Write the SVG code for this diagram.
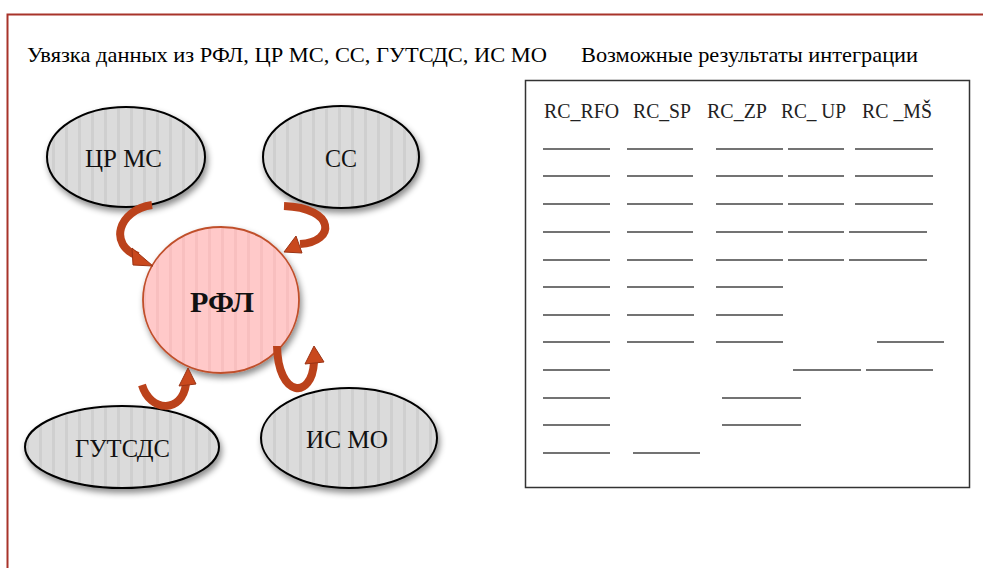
<svg xmlns="http://www.w3.org/2000/svg" width="983" height="568" viewBox="0 0 983 568">
<defs>
<pattern id="gstripe" width="13" height="20" patternUnits="userSpaceOnUse">
<rect width="13" height="20" fill="#dbdbdb"/>
<rect x="0" width="3" height="20" fill="#cfcfcf"/>
</pattern>
<pattern id="pstripe" width="13" height="20" patternUnits="userSpaceOnUse">
<rect width="13" height="20" fill="#ffc9c9"/>
<rect x="0" width="3" height="20" fill="#f8bfbf"/>
</pattern>
<filter id="shadow" x="-20%" y="-20%" width="140%" height="150%">
<feDropShadow dx="2" dy="4" stdDeviation="3" flood-color="#000" flood-opacity="0.45"/>
</filter>
</defs>
<style>
.node { fill: url(#gstripe); stroke: #000; stroke-width: 2; filter: url(#shadow); }
.lbl { font-size: 26px; fill: #111; }
.hdr { font-size: 22px; fill: #000; }
.col { font-size: 21px; fill: #222; }
.arr { fill: none; stroke: #bb421b; stroke-width: 8; stroke-linecap: butt; }
.head { fill: #c9481d; stroke: #9a3314; stroke-width: 1; }
.ul { stroke: #444; stroke-width: 1.3; }
</style>
<rect x="0" y="0" width="983" height="568" fill="#fff"/>
<path d="M7.5 568 V14.5 H983" fill="none" stroke="#a8332a" stroke-width="2"/>
<g font-family="Liberation Serif, serif">
<text class="hdr" x="27" y="62" textLength="520" lengthAdjust="spacingAndGlyphs">Увязка данных из РФЛ, ЦР МС, СС, ГУТСДС, ИС МО</text>
<text class="hdr" x="581" y="62" textLength="337" lengthAdjust="spacingAndGlyphs">Возможные результаты интеграции</text>

<g id="node-crms">
<ellipse class="node" cx="126" cy="157" rx="79" ry="50"/>
<text class="lbl" x="85" y="167" textLength="77" lengthAdjust="spacingAndGlyphs">ЦР МС</text>
</g>
<g id="node-ss">
<ellipse class="node" cx="341" cy="157" rx="78" ry="51"/>
<text class="lbl" x="325" y="167" textLength="32" lengthAdjust="spacingAndGlyphs">СС</text>
</g>
<g id="node-rfl">
<ellipse cx="221" cy="300" rx="78" ry="73" fill="url(#pstripe)" stroke="#c0502c" stroke-width="1.8" filter="url(#shadow)"/>
<text x="190" y="312" font-size="30" font-weight="bold" fill="#111" textLength="64" lengthAdjust="spacingAndGlyphs">РФЛ</text>
</g>
<g id="node-gutsds">
<ellipse class="node" cx="122" cy="447" rx="97" ry="41"/>
<text class="lbl" x="75" y="457" textLength="95" lengthAdjust="spacingAndGlyphs">ГУТСДС</text>
</g>
<g id="node-ismo">
<ellipse class="node" cx="349" cy="438" rx="88" ry="50"/>
<text class="lbl" x="306" y="448" textLength="82" lengthAdjust="spacingAndGlyphs">ИС МО</text>
</g>

<g id="connectors">
<path class="arr" d="M152 205 C118 210 108 245 138 256"/>
<polygon class="head" points="132,248 153,266 133,265"/>
<path class="arr" d="M284 206 C336 208 336 242 300 244"/>
<polygon class="head" points="296,236 284,252 302,253"/>
<path class="arr" d="M142 385 C150 412 182 414 186 384"/>
<polygon class="head" points="179,386 188,368 196,384"/>
<path class="arr" d="M277 346 C278 398 312 400 314 362"/>
<polygon class="head" points="305,364 314,346 324,362"/>
</g>

<g id="results">
<rect x="525.5" y="80.5" width="444" height="407" fill="#fff" stroke="#333" stroke-width="1.5"/>
<text class="col" x="544" y="118" textLength="75" lengthAdjust="spacingAndGlyphs">RC_RFO</text>
<text class="col" x="633" y="118" textLength="58" lengthAdjust="spacingAndGlyphs">RC_SP</text>
<text class="col" x="707" y="118" textLength="60" lengthAdjust="spacingAndGlyphs">RC_ZP</text>
<text class="col" x="781" y="118" textLength="65" lengthAdjust="spacingAndGlyphs">RC_ UP</text>
<text class="col" x="862" y="118" textLength="70" lengthAdjust="spacingAndGlyphs">RC _MŠ</text>
<g class="ul">
<line x1="543" y1="149" x2="610" y2="149"/><line x1="627" y1="149" x2="693" y2="149"/><line x1="716" y1="149" x2="783" y2="149"/><line x1="788" y1="149" x2="844" y2="149"/><line x1="855" y1="149" x2="933" y2="149"/>
<line x1="543" y1="176" x2="610" y2="176"/><line x1="627" y1="176" x2="693" y2="176"/><line x1="716" y1="176" x2="783" y2="176"/><line x1="788" y1="176" x2="844" y2="176"/><line x1="855" y1="176" x2="933" y2="176"/>
<line x1="543" y1="204" x2="610" y2="204"/><line x1="627" y1="204" x2="693" y2="204"/><line x1="716" y1="204" x2="783" y2="204"/><line x1="788" y1="204" x2="844" y2="204"/><line x1="855" y1="204" x2="933" y2="204"/>
<line x1="543" y1="232" x2="610" y2="232"/><line x1="627" y1="232" x2="693" y2="232"/><line x1="716" y1="232" x2="783" y2="232"/><line x1="788" y1="232" x2="844" y2="232"/><line x1="849" y1="232" x2="927" y2="232"/>
<line x1="543" y1="260" x2="610" y2="260"/><line x1="627" y1="260" x2="693" y2="260"/><line x1="716" y1="260" x2="783" y2="260"/><line x1="788" y1="260" x2="844" y2="260"/><line x1="849" y1="260" x2="927" y2="260"/>
<line x1="543" y1="287" x2="610" y2="287"/><line x1="627" y1="287" x2="694" y2="287"/><line x1="716" y1="287" x2="783" y2="287"/>
<line x1="543" y1="315" x2="610" y2="315"/><line x1="627" y1="315" x2="694" y2="315"/><line x1="716" y1="315" x2="783" y2="315"/>
<line x1="543" y1="342" x2="610" y2="342"/><line x1="627" y1="342" x2="694" y2="342"/><line x1="716" y1="342" x2="783" y2="342"/><line x1="877" y1="342" x2="944" y2="342"/>
<line x1="543" y1="370" x2="610" y2="370"/><line x1="793" y1="370" x2="861" y2="370"/><line x1="866" y1="370" x2="933" y2="370"/>
<line x1="543" y1="398" x2="610" y2="398"/><line x1="722" y1="398" x2="801" y2="398"/>
<line x1="543" y1="425" x2="610" y2="425"/><line x1="722" y1="425" x2="801" y2="425"/>
<line x1="543" y1="453" x2="610" y2="453"/><line x1="633" y1="453" x2="700" y2="453"/>
</g>
</g>
</g>
</svg>
